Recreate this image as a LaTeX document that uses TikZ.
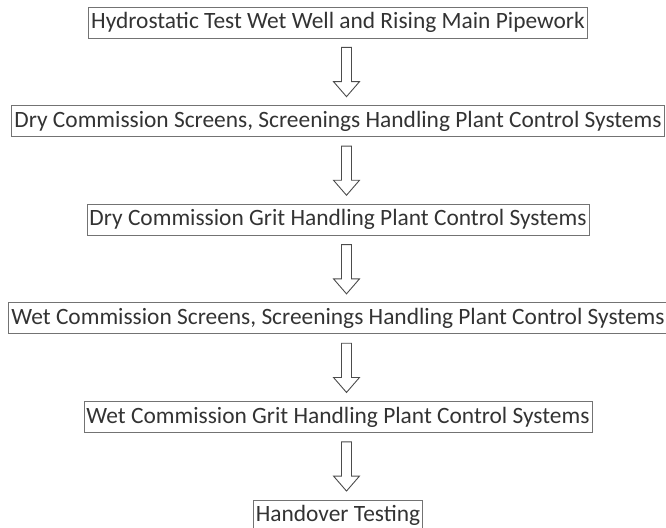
\documentclass[tikz,border=0pt]{standalone}
\usepackage{fontspec}
\setmainfont{Carlito}
\usetikzlibrary{positioning, calc}

% hollow block arrow from the bottom of one stage to the top of the next
\newcommand{\stagearrow}[2]{%
  \draw[flow] let \p1=($(#1.south)+(8.5pt,-9pt)$), \p2=($(#2.north)+(8.5pt,8.5pt)$) in
    (\x1-5pt,\y1) -- (\x1+5pt,\y1) -- (\x1+5pt,\y2+15pt) -- (\x1+13pt,\y2+15pt)
    -- (\x1,\y2) -- (\x1-13pt,\y2+15pt) -- (\x1-5pt,\y2+15pt) -- cycle;}

\begin{document}
\begin{tikzpicture}[
  node distance=66.7pt,
  stage/.style={draw=black!55, line width=0.9pt, inner xsep=2.5pt, inner ysep=0pt,
                minimum height=31pt, text=black!80,
                font=\fontsize{23.4}{26}\selectfont},
  flow/.style={draw=black!70, line width=0.9pt, fill=white, line join=miter},
]
\useasboundingbox (0,0) rectangle (666pt,-527pt);

\node[stage] (hydro) at (338pt,-22.5pt) {Hydrostatic Test Wet Well and Rising Main Pipework};
\node[stage, below=of hydro] (dryscr) {Dry Commission Screens, Screenings Handling Plant Control Systems};
\node[stage, below=of dryscr] (drygrit) {Dry Commission Grit Handling Plant Control Systems};
\node[stage, below=of drygrit] (wetscr) {Wet Commission Screens, Screenings Handling Plant Control Systems};
\node[stage, below=of wetscr] (wetgrit) {Wet Commission Grit Handling Plant Control Systems};
\node[stage, below=of wetgrit] (handover) {Handover Testing};

\stagearrow{hydro}{dryscr}
\stagearrow{dryscr}{drygrit}
\stagearrow{drygrit}{wetscr}
\stagearrow{wetscr}{wetgrit}
\stagearrow{wetgrit}{handover}

\end{tikzpicture}
\end{document}
